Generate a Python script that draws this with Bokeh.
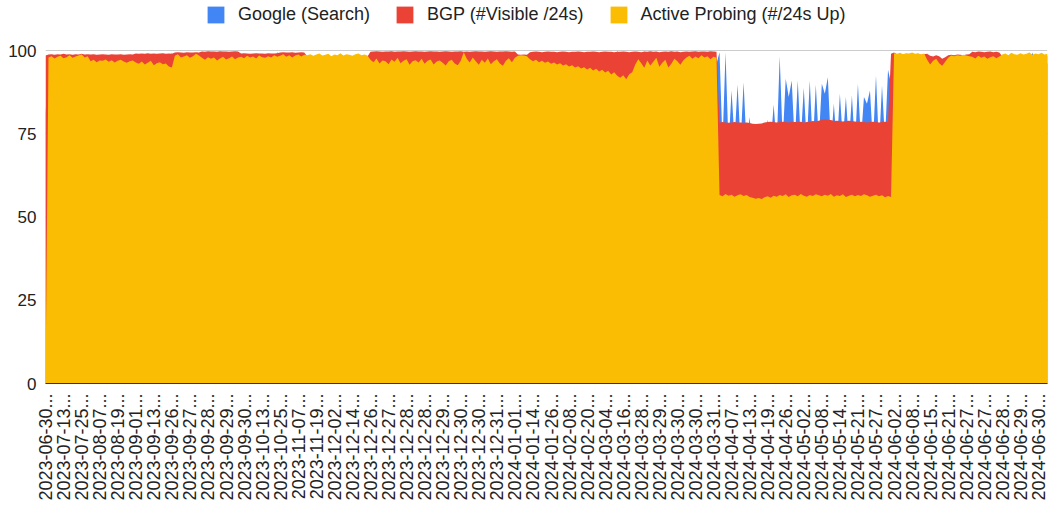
import math
from bokeh.plotting import figure
from bokeh.models import (Range1d, FixedTicker, Legend, LegendItem, ColumnDataSource)
from bokeh.embed import file_html
from bokeh.resources import INLINE

# ---------------- data (% of baseline) -------------
tick_labels = [
    "2023-06-30...", "2023-07-13...", "2023-07-25...", "2023-08-07...", "2023-08-19...",
    "2023-09-01...", "2023-09-13...", "2023-09-26...", "2023-09-27...", "2023-09-28...",
    "2023-09-29...", "2023-09-30...", "2023-10-13...", "2023-10-25...", "2023-11-07...",
    "2023-11-19...", "2023-12-02...", "2023-12-14...", "2023-12-26...", "2023-12-27...",
    "2023-12-28...", "2023-12-28...", "2023-12-29...", "2023-12-30...", "2023-12-30...",
    "2023-12-31...", "2024-01-01...", "2024-01-14...", "2024-01-26...", "2024-02-08...",
    "2024-02-20...", "2024-03-04...", "2024-03-16...", "2024-03-28...", "2024-03-29...",
    "2024-03-30...", "2024-03-30...", "2024-03-31...", "2024-04-07...", "2024-04-13...",
    "2024-04-19...", "2024-04-26...", "2024-05-02...", "2024-05-08...", "2024-05-14...",
    "2024-05-21...", "2024-05-27...", "2024-06-02...", "2024-06-08...", "2024-06-15...",
    "2024-06-21...", "2024-06-27...", "2024-06-27...", "2024-06-28...", "2024-06-29...",
    "2024-06-30...",
]

active_probing = [
    0.0,
    97.9, 98.3, 97.6, 98.1, 98.4, 97.7, 98.0, 98.6, 97.8, 98.2, 98.5, 98.9, 97.9, 98.3,
    96.8, 97.2, 96.5, 97.0, 96.9, 97.3, 96.6, 97.1, 96.4, 96.9, 97.2, 96.7, 96.3, 96.8, 97.0,
    96.4, 96.0, 96.7, 95.8, 96.3, 96.9, 95.6, 96.2, 96.5, 95.9, 96.1, 95.2, 94.9,
    98.4, 98.9, 97.9, 98.2, 98.6, 97.8, 98.3, 99.0, 98.5,
    97.8, 97.2, 98.0, 97.5, 97.9, 97.0, 97.6, 98.1, 97.3, 97.7, 98.2, 97.4, 97.9,
    98.1, 97.7, 98.4, 97.9, 98.2, 97.6, 98.5, 98.0, 97.8, 98.3, 97.9, 98.6, 98.1,
    98.4, 98.9, 98.1, 98.6, 97.9, 98.5, 98.8, 98.2, 98.7,
    98.6, 98.9, 98.4, 98.8, 99.1, 98.5, 98.7, 99.0, 98.3, 98.8, 98.6, 99.2, 98.5, 98.9,
    98.7, 98.4, 98.9, 99.1, 98.6, 98.8, 98.5,
    97.2, 96.5, 97.6, 96.1, 97.0, 96.8, 95.9, 97.3, 96.6, 97.8, 96.2, 96.9, 97.4, 95.7,
    96.8, 97.1, 96.4, 97.5, 96.0, 96.9, 97.3, 95.8, 96.7, 97.0, 96.3, 95.5, 96.8, 97.2,
    96.1, 95.6, 96.9,
    99.5,
    97.5, 96.4, 97.9, 96.8, 95.7, 97.2, 96.3, 97.6, 95.9, 96.8, 97.4, 96.1, 95.4, 96.9,
    97.7, 96.5, 97.8,
    98.4, 98.6, 98.5, 98.3,
    97.4, 96.8, 97.2, 96.5, 96.9, 96.3, 96.7, 96.0, 96.4, 95.8, 96.2, 95.5, 95.9, 95.2,
    95.6, 94.9, 95.3, 94.6, 95.0, 94.3, 94.8, 94.0, 94.5, 93.7, 94.2, 93.4, 93.9, 92.8,
    93.5, 92.4,
    91.8, 92.6, 91.4, 92.9, 93.5,
    95.8, 97.4, 96.2, 94.8, 97.0, 95.5, 96.6, 97.8, 95.1, 96.3, 97.2, 94.9, 96.0, 97.5,
    96.8, 95.7, 97.1,
    97.9, 98.4, 97.5, 98.2, 97.7, 98.6, 97.9, 98.3, 97.4, 98.1, 97.8,
    56.6, 56.2, 56.9, 56.4, 56.7, 56.1, 56.5, 56.8, 56.3, 56.6, 56.0, 55.8, 55.5, 55.7,
    55.4, 55.9, 56.2, 55.8, 56.4, 56.1, 56.6, 56.3, 56.8, 56.0, 56.5, 56.7, 56.2, 56.9,
    56.4, 56.1, 56.6, 56.3, 56.8, 56.5, 56.2, 56.7, 56.4, 56.9, 56.1, 56.5, 56.3, 56.8,
    56.0, 56.4, 56.7, 56.2, 56.6, 56.3, 56.8, 56.5, 56.1, 56.4, 56.7, 56.2, 56.5, 55.9,
    56.3, 56.0,
    99.2, 99.0, 99.3, 98.9, 99.2, 99.1, 99.4, 99.0, 99.2, 98.8, 99.1,
    97.2, 95.8, 96.9, 97.5,
    96.2, 95.4, 96.6, 97.8,
    98.5, 98.3, 98.6, 98.4, 98.7, 98.5, 98.3,
    98.1, 97.6, 98.4, 97.8, 98.2, 97.5, 98.0, 98.3, 97.7, 98.2,
    98.8, 99.1, 98.6, 99.3, 98.9, 98.7, 99.2, 98.8, 99.0, 99.4, 98.7, 99.1, 98.9, 99.3,
    98.8, 99.0,
]

bgp = [
    98.5,
    98.8, 98.9, 98.7, 98.9, 98.8, 99.0, 98.8, 98.9, 98.7, 98.9, 98.8, 99.0, 98.8, 98.9,
    98.8, 98.9, 98.7, 98.8, 98.9, 98.8, 98.7, 98.9, 98.8, 98.8, 98.9, 98.7, 98.8, 98.9, 98.8,
    99.1, 99.0, 99.1, 99.0, 99.2, 99.0, 99.1, 99.0, 99.1, 99.2, 99.0, 99.1, 99.0,
    99.4, 99.5, 99.4, 99.3, 99.5, 99.4, 99.4, 99.5, 99.4,
    99.7, 99.6, 99.8, 99.7, 99.7, 99.6, 99.8, 99.7, 99.7, 99.6, 99.7, 99.8, 99.7,
    99.1, 99.2, 99.1, 99.0, 99.1, 99.2, 99.1, 99.1, 99.0, 99.2, 99.1, 99.1, 99.2,
    99.4, 99.5, 99.4, 99.4, 99.5, 99.3, 99.4, 99.5, 99.4,
    98.2, 98.5, 98.1, 98.4, 98.7, 98.2, 98.4, 98.6, 98.0, 98.5, 98.3, 98.8, 98.2, 98.6,
    98.4, 98.1, 98.6, 98.8, 98.3, 98.5, 98.2,
    99.6, 99.7, 99.8, 99.7, 99.6, 99.7, 99.7, 99.8, 99.6, 99.7, 99.7, 99.8, 99.7, 99.6,
    99.7, 99.8, 99.7, 99.7, 99.6, 99.7, 99.8, 99.7, 99.7, 99.6, 99.7, 99.8, 99.7, 99.6,
    99.7, 99.7, 99.8,
    99.6,
    99.7, 99.6, 99.7, 99.8, 99.7, 99.7, 99.6, 99.7, 99.8, 99.7, 99.6, 99.7, 99.7, 99.8,
    99.7, 99.6, 99.7,
    98.8, 98.7, 98.8, 98.7,
    99.5, 99.6, 99.7, 99.6, 99.5, 99.6, 99.7, 99.6, 99.6, 99.5, 99.6, 99.7, 99.6, 99.5,
    99.6, 99.6, 99.7, 99.6, 99.5, 99.6, 99.6, 99.7, 99.6, 99.5, 99.6, 99.7, 99.6, 99.6,
    99.5, 99.6,
    99.6, 99.7, 99.6, 99.5, 99.6,
    99.7, 99.6, 99.5, 99.7, 99.6, 99.8, 99.6, 99.7, 99.5, 99.6, 99.7, 99.6, 99.8, 99.6,
    99.7, 99.5, 99.6,
    99.7, 99.6, 99.7, 99.8, 99.6, 99.7, 99.7, 99.6, 99.8, 99.7, 99.6,
    78.4, 78.5, 78.4, 78.3, 78.4, 78.5, 78.4, 78.4, 78.3, 78.4, 78.2,
    78.0, 77.9, 78.0, 78.1,
    78.4, 78.5, 78.6, 78.5, 78.4, 78.5, 78.6, 78.5, 78.4, 78.6, 78.5, 78.5, 78.6, 78.4,
    78.5, 78.6,
    78.8, 78.7, 78.9,
    79.2, 79.3, 79.2, 79.1,
    78.8, 78.9, 78.8, 78.7, 78.8, 78.9, 78.8, 78.7,
    78.5, 78.6, 78.5, 78.4, 78.5, 78.6, 78.5, 78.4, 78.5, 78.6, 78.5,
    99.0,
    99.4, 98.9, 99.0, 98.8, 99.0, 98.9, 99.1, 98.8, 99.0, 98.7, 98.9,
    99.0, 98.4, 98.2, 98.6,
    98.3, 97.5, 98.0, 98.6,
    98.7, 98.6, 98.8, 98.7, 98.6, 98.8, 98.9,
    99.6, 99.5, 99.7, 99.6, 99.5, 99.6, 99.7, 99.5, 99.6, 99.4,
    98.2, 98.5, 98.1, 98.6, 98.3, 98.2, 98.5, 98.3, 98.4, 98.7, 98.2, 98.5, 98.3, 98.6,
    98.2, 98.4,
]

google = [
    81.0,
    95.2, 95.8, 94.9, 95.5, 96.1, 95.3, 94.8, 95.6, 95.9, 95.1, 95.4, 96.0, 95.2, 94.7, 95.5,
    95.8, 95.0, 95.6, 96.2, 95.3, 94.9, 95.7, 95.4, 96.0, 95.1, 95.5, 95.8, 94.8, 95.3, 95.9,
    95.2, 95.6, 94.9, 95.4, 96.1, 95.0, 95.7, 95.3, 95.9, 95.1, 95.5, 99.4, 95.2, 95.8, 95.0,
    95.6, 95.3, 96.0, 95.1, 95.7, 94.9, 95.4, 95.8, 95.2, 96.1, 95.5, 95.0, 95.6, 95.3, 95.9,
    95.2, 95.7, 94.8, 95.4, 96.0, 95.1, 95.5, 95.9, 95.3, 94.9, 95.6, 95.2, 95.8, 95.0, 95.4,
    95.7, 99.6, 95.1, 95.5, 96.0, 95.2, 95.8, 94.9, 95.4, 95.6, 95.1, 95.9, 95.3, 95.7, 95.0,
    95.5, 95.8, 95.2, 96.0, 95.4, 94.9, 95.6, 95.3, 95.9, 95.1, 95.7, 95.4, 95.0, 95.8, 95.2,
    95.6, 95.3, 95.9, 95.1, 95.5, 96.0, 95.2, 95.7, 94.8, 95.4, 95.8, 95.1, 95.6, 95.3, 95.9,
    95.0, 95.5, 95.8, 95.2, 95.7, 94.9, 95.4, 96.0, 95.3, 95.6, 95.1, 95.8, 95.2, 95.5, 95.9,
    95.3, 95.0, 95.7, 95.4, 95.8, 95.1, 95.6, 95.2, 95.9, 95.3, 95.5, 94.9, 95.7, 95.4, 95.0,
    95.6, 95.2, 95.8, 95.1, 95.5, 95.9, 95.3, 95.7, 95.0, 95.4, 95.8, 95.2, 95.6, 95.1, 95.5,
    95.9, 95.3, 95.7, 95.0, 95.4, 95.8, 95.2, 95.6, 95.1, 95.5, 95.9, 95.3, 95.7, 95.0, 95.4,
    95.8, 95.2, 95.6, 95.1, 95.5, 95.9, 95.3, 95.7, 95.0, 99.9, 95.8, 95.2, 95.6, 95.1, 95.5,
    95.9, 95.3, 95.7, 95.0, 95.4, 95.8, 95.2, 95.6, 95.1, 95.5, 95.9, 95.3, 95.7, 95.0, 95.4,
    95.8, 95.2, 95.6, 95.1, 95.5, 95.9, 95.3, 95.7, 95.0, 95.4, 95.8, 95.2,
    96.0,
    99.5, 72.0, 99.5, 71.0, 88.0, 73.0, 89.8, 72.0, 90.5, 71.0, 80.0,
    70.0, 70.0, 70.0, 70.0, 71.0, 79.3, 72.0, 83.8, 71.0, 98.3, 73.0, 91.5, 86.0, 91.0,
    72.0, 91.0, 73.0, 88.8, 72.0, 91.0, 71.0, 89.7, 73.0, 90.0, 87.0, 92.0, 72.0, 84.0,
    71.0, 87.0, 73.0, 86.0, 72.0, 86.5, 71.0, 90.0, 73.0, 86.0, 84.0, 88.0, 72.0, 92.5,
    71.0, 89.5, 73.0, 94.2, 90.0,
    96.2, 96.5, 96.0, 96.4, 96.7, 96.1, 96.3, 96.6, 96.0, 96.4, 96.2, 95.5, 94.8, 95.2, 95.6,
    95.0, 94.6, 95.3, 95.9, 96.2, 96.0, 96.4, 96.1, 96.3, 96.0, 96.2, 96.5, 96.1, 96.4, 96.0,
    96.3, 96.1, 96.4, 96.0, 96.2, 96.5, 96.1, 96.4, 96.0, 96.3, 96.6, 96.2, 96.4, 96.0, 96.3,
    96.1, 99.4, 96.2, 96.5, 96.0, 96.3, 96.1,
]

series_names = ["Google (Search)", "BGP (#Visible /24s)", "Active Probing (#/24s Up)"]
y_ticks = [0, 25, 50, 75, 100]

assert len(active_probing) == len(bgp) == len(google), (len(active_probing), len(bgp), len(google))

# ---------------- styling ----------------
BLUE, RED, YELLOW = "#4285F4", "#EA4335", "#FBBC04"
FONT = "Liberation Sans"
TEXT = "#222222"
n = len(active_probing)
label_step = 6  # data rows between two consecutive axis labels
PLOT_H = 333            # pixel height of the 0..100 value band
HEAD = 50               # pixels above the 100 line (room for the legend)
FRAME_W, FRAME_H = 1002, PLOT_H + HEAD

src = ColumnDataSource(dict(x=list(range(n)), g=google, b=bgp, a=active_probing))

p = figure(frame_width=FRAME_W, frame_height=FRAME_H, output_backend="svg", toolbar_location=None,
           x_range=Range1d(0, n - 1), y_range=Range1d(0, 100 * FRAME_H / PLOT_H),
           min_border_left=45, min_border_right=1, min_border_top=0, min_border_bottom=20)
p.title.visible = False
p.outline_line_color = None
p.background_fill_color = "white"

rg = p.varea(x="x", y1=0, y2="g", source=src, fill_color=BLUE)
rb = p.varea(x="x", y1=0, y2="b", source=src, fill_color=RED)
ra = p.varea(x="x", y1=0, y2="a", source=src, fill_color=YELLOW)

# y axis
p.yaxis.ticker = FixedTicker(ticks=y_ticks)
p.yaxis.axis_line_color = None
p.yaxis.major_tick_line_color = None
p.yaxis.minor_tick_line_color = None
p.yaxis.major_tick_in = 0
p.yaxis.major_tick_out = 0
p.yaxis.major_label_standoff = 9
p.yaxis.major_label_text_font = FONT
p.yaxis.major_label_text_font_size = "17px"
p.yaxis.major_label_text_color = TEXT

p.ygrid.ticker = FixedTicker(ticks=y_ticks)
p.ygrid.grid_line_color = "#cccccc"
p.ygrid.grid_line_width = 1
p.xgrid.visible = False

# x axis
ticks = [i * label_step for i in range(len(tick_labels))]
p.xaxis.ticker = FixedTicker(ticks=ticks)
p.xaxis.major_label_overrides = {t: lab for t, lab in zip(ticks, tick_labels)}
p.xaxis.major_label_orientation = math.pi / 2
p.xaxis.axis_line_color = "#333333"
p.xaxis.axis_line_width = 1
p.xaxis.major_tick_line_color = None
p.xaxis.minor_tick_line_color = None
p.xaxis.major_tick_in = 0
p.xaxis.major_tick_out = 0
p.xaxis.major_label_standoff = 10
p.xaxis.major_label_text_font = FONT
p.xaxis.major_label_text_font_size = "18px"
p.xaxis.major_label_text_color = TEXT

legend = Legend(items=[LegendItem(label=series_names[0], renderers=[rg]),
                       LegendItem(label=series_names[1], renderers=[rb]),
                       LegendItem(label=series_names[2], renderers=[ra])],
                orientation="horizontal", location=(160, FRAME_H - 25),
                glyph_width=21, glyph_height=21, label_standoff=12, spacing=24,
                label_text_font=FONT, label_text_font_size="18px",
                label_text_color=TEXT, padding=0, margin=0,
                border_line_color=None, background_fill_alpha=0)
p.add_layout(legend)

open("out.html", "w").write(file_html(p, INLINE))
